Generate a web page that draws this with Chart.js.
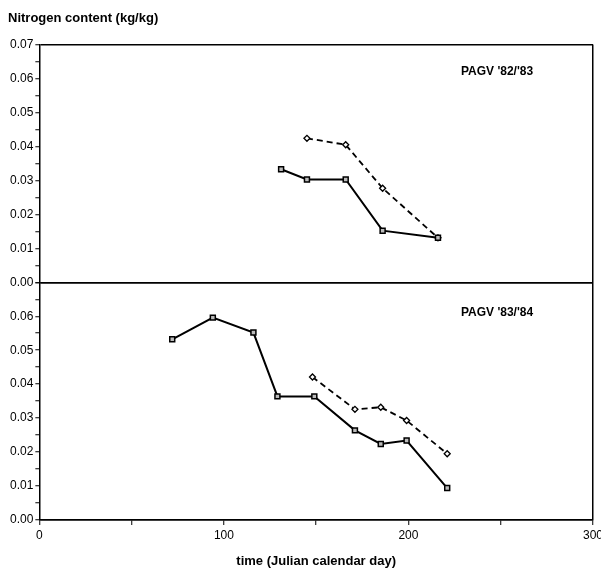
<!DOCTYPE html>
<html lang="en">
<head>
<meta charset="UTF-8">
<title>Nitrogen content</title>
<script src="https://cdn.jsdelivr.net/npm/chart.js"></script>
<style>
  body { margin: 0; background: #fff; }
  #wrap { width: 601px; height: 570px; }
</style>
</head>
<body>
<div id="wrap"><canvas id="chart" width="601" height="570"></canvas></div>
<script>
// PAGV '82/'83 (upper panel)
const days82Solid = [131, 145, 166, 186, 216];
const n82Solid = [0.0333, 0.0303, 0.0303, 0.0152, 0.0131];
const days82Dashed = [145, 166, 186, 216];
const n82Dashed = [0.0424, 0.0405, 0.0277, 0.0131];

// PAGV '83/'84 (lower panel)
const days83Solid = [72, 94, 116, 129, 149, 171, 185, 199, 221];
const n83Solid = [0.0532, 0.0596, 0.0552, 0.0364, 0.0364, 0.0264, 0.0224, 0.0234, 0.0094];
const days83Dashed = [148, 171, 185, 199, 221];
const n83Dashed = [0.0421, 0.0326, 0.0332, 0.0293, 0.0195];

const panelLabels = ["PAGV '82/'83", "PAGV '83/'84"];

const FONT = '"Liberation Sans", Arial, Helvetica, sans-serif';
const tickFont = { family: FONT, size: 12 };
const boldFont = { family: FONT, size: 13, weight: 'bold' };

function pairs(xs, ys) {
    return xs.map((x, i) => ({ x: x, y: ys[i] }));
}

function isMajor(v) {
    return Math.round(v * 1000) % 10 === 0;
}

// one y axis per panel, stacked on the left
function panelAxis(hideTopLabel) {
    return {
        type: 'linear',
        position: 'left',
        stack: 'panels',
        stackWeight: 1,
        min: 0,
        max: 0.07,
        border: { display: true, color: '#000', width: 1.5 },
        grid: {
            color: c => {
                if (!c.tick) return 'rgba(0,0,0,0)';
                const v = c.tick.value;
                return (Math.abs(v) < 1e-9 || Math.abs(v - 0.07) < 1e-9) ? '#000' : 'rgba(0,0,0,0)';
            },
            lineWidth: 1.5,
            tickColor: '#000',
            tickLength: 4,
            tickWidth: 1
        },
        ticks: {
            stepSize: 0.005,
            autoSkip: false,
            padding: 2,
            color: '#000',
            font: tickFont,
            callback: v => {
                if (!isMajor(v)) return '';
                if (hideTopLabel && Math.abs(v - 0.07) < 1e-9) return '';
                return v.toFixed(2);
            }
        }
    };
}

const panelText = {
    id: 'panelText',
    afterDatasetsDraw(chart) {
        const { ctx, scales } = chart;
        ctx.save();
        ctx.font = 'bold 12px ' + FONT;
        ctx.fillStyle = '#000';
        ctx.textAlign = 'center';
        ctx.textBaseline = 'middle';
        ctx.fillText(panelLabels[0], scales.x.getPixelForValue(248), scales.yTop.getPixelForValue(0.062));
        ctx.fillText(panelLabels[1], scales.x.getPixelForValue(248), scales.yBot.getPixelForValue(0.061));
        ctx.restore();
    }
};

const solidStyle = {
    borderColor: '#000',
    borderWidth: 2,
    pointStyle: 'rect',
    pointRadius: 3.5,
    pointBorderWidth: 1.5,
    pointBorderColor: '#000',
    pointBackgroundColor: '#bbb'
};
const dashedStyle = {
    borderColor: '#000',
    borderWidth: 1.8,
    borderDash: [6, 4],
    pointStyle: 'rectRot',
    pointRadius: 3,
    pointBorderWidth: 1.3,
    pointBorderColor: '#000',
    pointBackgroundColor: '#fff'
};

new Chart(document.getElementById('chart'), {
    type: 'line',
    data: {
        datasets: [
            Object.assign({ data: pairs(days82Solid, n82Solid), yAxisID: 'yTop' }, solidStyle),
            Object.assign({ data: pairs(days82Dashed, n82Dashed), yAxisID: 'yTop' }, dashedStyle),
            Object.assign({ data: pairs(days83Solid, n83Solid), yAxisID: 'yBot' }, solidStyle),
            Object.assign({ data: pairs(days83Dashed, n83Dashed), yAxisID: 'yBot' }, dashedStyle)
        ]
    },
    options: {
        responsive: false,
        animation: false,
        layout: { padding: { left: 8, right: 0, top: 0, bottom: 1 } },
        plugins: {
            legend: { display: false },
            tooltip: { enabled: false },
            title: {
                display: true,
                text: 'Nitrogen content (kg/kg)',
                align: 'start',
                color: '#000',
                font: boldFont,
                padding: { top: 11, bottom: 18 }
            }
        },
        scales: {
            x: {
                type: 'linear',
                position: 'bottom',
                min: 0,
                max: 300,
                border: { color: '#000', width: 1.5 },
                grid: {
                    color: c => (c.tick && c.tick.value === 300) ? '#000' : 'rgba(0,0,0,0)',
                    lineWidth: 1.5,
                    tickColor: '#000',
                    tickLength: 5,
                    tickWidth: 1
                },
                ticks: {
                    stepSize: 50,
                    autoSkip: false,
                    maxRotation: 0,
                    padding: 3,
                    color: '#000',
                    font: tickFont,
                    callback: v => v % 100 === 0 ? v : ''
                },
                title: {
                    display: true,
                    text: 'time (Julian calendar day)',
                    color: '#000',
                    font: boldFont,
                    padding: { top: 8, bottom: 0 }
                },
                // let the "300" label run to the canvas edge as in the original
                afterFit: s => { s.paddingRight = 8; }
            },
            // the stacked left axes are laid out last-defined first, so the lower panel comes first here
            yBot: panelAxis(true),
            yTop: panelAxis(false)
        }
    },
    plugins: [panelText]
});
</script>
</body>
</html>
